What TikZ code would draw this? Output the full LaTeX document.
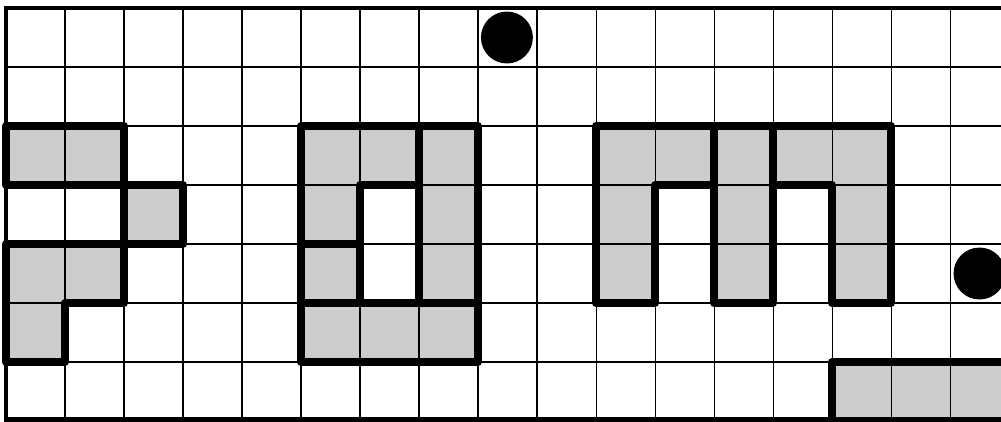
\documentclass[tikz,border=0pt]{standalone}
\usepackage{tikz}
\definecolor{cellgray}{gray}{0.8}

\begin{document}
\begin{tikzpicture}[x=1cm, y=-1cm,
    piece/.style={draw=black, fill=cellgray, line width=4pt, line join=round},
    gridline/.style={black, line width=0.5pt},
    frameline/.style={black, line width=2.3pt},
    dot/.style={circle, fill=black, minimum size=0.88cm, inner sep=0pt}]
    \useasboundingbox (-0.1017,-0.1356) rectangle (16.864,7.0);
    \begin{scope}
        \clip (-0.1017,-0.1356) rectangle (16.864,7.0);

        % --- left group ---
        \draw[piece] (0,2) rectangle (2,3);
        \draw[piece] (2,3) rectangle (3,4);
        \draw[piece] (0,4) -- (2,4) -- (2,5) -- (1,5) -- (1,6) -- (0,6) -- cycle;

        % --- middle group ---
        \draw[piece] (5,2) -- (7,2) -- (7,3) -- (6,3) -- (6,4) -- (5,4) -- cycle;
        \draw[piece] (5,4) rectangle (6,5);
        \draw[piece] (7,2) rectangle (8,5);
        \draw[piece] (5,5) rectangle (8,6);

        % --- right group ---
        \draw[piece] (10,2) -- (12,2) -- (12,3) -- (11,3) -- (11,5) -- (10,5) -- cycle;
        \draw[piece] (12,2) rectangle (13,5);
        \draw[piece] (13,2) -- (15,2) -- (15,5) -- (14,5) -- (14,3) -- (13,3) -- cycle;
        \draw[piece] (14,6) rectangle (17.5,7.5); % runs off the edge

        % grid on top
        \draw[gridline] (0,0) grid (17,7);

        % frame
        \draw[frameline] (17.5,0) -- (0,0) -- (0,6.97) -- (17.5,6.97);
    \end{scope}

    % markers
    \node[dot] (topdot) at (8.49,0.5) {};
    \node[dot] (rightdot) at (16.5,4.5) {};
\end{tikzpicture}
\end{document}
